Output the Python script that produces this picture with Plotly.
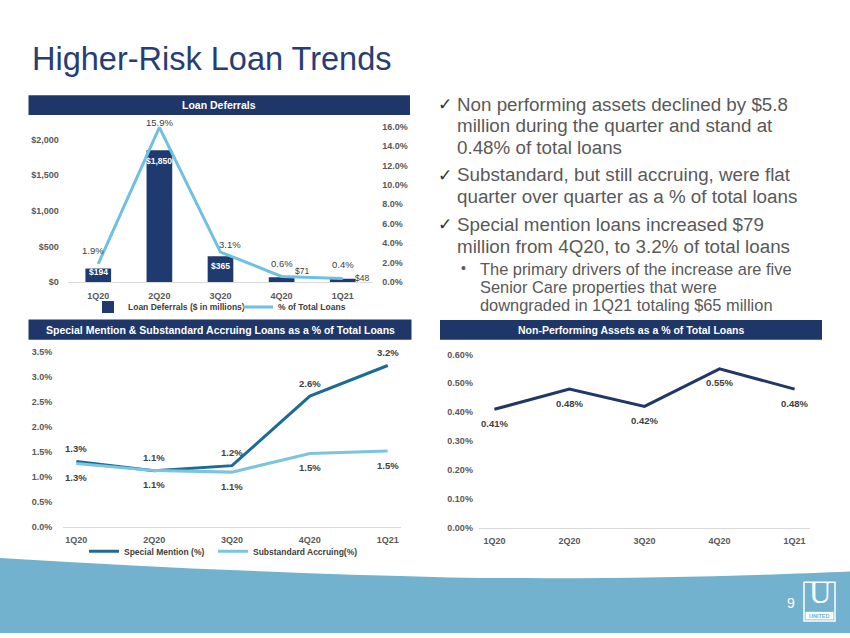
import plotly.graph_objects as go

W, H = 850, 638


def px(x):
    return x / W


def py(y):
    return 1 - y / H


# ---------------- data ----------------
quarters = ["1Q20", "2Q20", "3Q20", "4Q20", "1Q21"]
deferral_amounts = [194, 1850, 365, 71, 48]          # $ in millions
deferral_pct = [1.9, 15.9, 3.1, 0.6, 0.4]            # % of total loans
special_mention = [1.30, 1.12, 1.22, 2.61, 3.22]     # %
substandard_accruing = [1.26, 1.12, 1.09, 1.46, 1.51]  # %
npa_pct = [0.41, 0.48, 0.42, 0.55, 0.48]             # %

deferral_ticks = [0, 500, 1000, 1500, 2000]
deferral_pct_ticks = [0, 2, 4, 6, 8, 10, 12, 14, 16]
sm_ticks = [0, 0.5, 1.0, 1.5, 2.0, 2.5, 3.0, 3.5]
npa_ticks = [0, 0.1, 0.2, 0.3, 0.4, 0.5, 0.6]

title_text = "Higher-Risk Loan Trends"
header_1 = "Loan Deferrals"
header_2 = "Special Mention & Substandard Accruing Loans as a % of Total Loans"
header_3 = "Non-Performing Assets as a % of Total Loans"
bullet_lines = [
    "Non performing assets declined by $5.8",
    "million during the quarter and stand at",
    "0.48% of total loans",
    "Substandard, but still accruing, were flat",
    "quarter over quarter as a % of total loans",
    "Special mention loans increased $79",
    "million from 4Q20, to 3.2% of total loans",
]
check_line_index = [0, 3, 5]
sub_bullet_lines = [
    "The primary drivers of the increase are five",
    "Senior Care properties that were",
    "downgraded in 1Q21 totaling $65 million",
]

# ---------------- styles ----------------
FONT = "Liberation Sans"
NAVY = "#1F3768"
BAR = "#1F3A6E"
LIGHT = "#6EC1E2"
TEAL = "#1B6C94"
SUB = "#7CC4E2"
NPA = "#213767"
TEXT = "#595959"
LABEL = "#404040"
WAVE = "#72B2CE"

tickfont = dict(family=FONT, size=9, color=TEXT, weight="bold")
legendfont = dict(family=FONT, size=8.5, color=LABEL, weight="bold")

fig = go.Figure()

# Chart 1 : Loan deferrals
fig.add_trace(go.Bar(
    x=quarters, y=deferral_amounts, xaxis="x", yaxis="y",
    marker=dict(color=BAR, line=dict(width=0)), width=0.42,
    name="Loan Deferrals ($ in millions)", legend="legend",
    hoverinfo="skip",
))
fig.add_trace(go.Scatter(
    x=quarters, y=deferral_pct, xaxis="x", yaxis="y2", mode="lines",
    line=dict(color=LIGHT, width=3), name="% of Total Loans", legend="legend3",
    hoverinfo="skip",
))

# Chart 2 : Special mention & substandard
fig.add_trace(go.Scatter(
    x=quarters, y=special_mention, xaxis="x2", yaxis="y3", mode="lines",
    line=dict(color=TEAL, width=3), name="Special Mention (%)", legend="legend2",
    hoverinfo="skip",
))
fig.add_trace(go.Scatter(
    x=quarters, y=substandard_accruing, xaxis="x2", yaxis="y3", mode="lines",
    line=dict(color=SUB, width=3), name="Substandard Accruing(%)", legend="legend4",
    hoverinfo="skip",
))

# Chart 3 : NPA
fig.add_trace(go.Scatter(
    x=quarters, y=npa_pct, xaxis="x3", yaxis="y4", mode="lines",
    line=dict(color=NPA, width=3), showlegend=False, hoverinfo="skip",
))

annotations = []

# bar labels
bar_label_offsets = [(0, -4), (0, -11), (0, -10), (20, 6), (19, 1)]
bar_label_colors = ["white", "white", "white", LABEL, LABEL]
for q, v, (dx, dy), c in zip(quarters, deferral_amounts, bar_label_offsets, bar_label_colors):
    annotations.append(dict(
        x=q, y=v, xref="x", yref="y", text="${:,}".format(v), showarrow=False,
        xshift=dx, yshift=dy, xanchor="center", yanchor="middle",
        font=dict(family=FONT, size=8.5, color=c, weight="bold" if c == "white" else "normal"),
    ))

# pct labels on chart 1
pct_label_offsets = [(-5, 13), (0, 5), (9, 8), (0, 13), (0, 14)]
for q, v, (dx, dy) in zip(quarters, deferral_pct, pct_label_offsets):
    annotations.append(dict(
        x=q, y=v, xref="x", yref="y2", text="{:.1f}%".format(v), showarrow=False,
        xshift=dx, yshift=dy, xanchor="center", yanchor="middle",
        font=dict(family=FONT, size=9.5, color=LABEL),
    ))

# chart 2 labels
for q, v in zip(quarters, special_mention):
    annotations.append(dict(
        x=q, y=v, xref="x2", yref="y3", text="{:.1f}%".format(v), showarrow=False,
        yshift=13, xanchor="center", yanchor="middle",
        font=dict(family=FONT, size=9.5, color=LABEL, weight="bold"),
    ))
for q, v in zip(quarters, substandard_accruing):
    annotations.append(dict(
        x=q, y=v, xref="x2", yref="y3", text="{:.1f}%".format(v), showarrow=False,
        yshift=-14, xanchor="center", yanchor="middle",
        font=dict(family=FONT, size=9.5, color=LABEL, weight="bold"),
    ))

# chart 3 labels
for q, v in zip(quarters, npa_pct):
    annotations.append(dict(
        x=q, y=v, xref="x3", yref="y4", text="{:.2f}%".format(v), showarrow=False,
        yshift=-14, xanchor="center", yanchor="middle",
        font=dict(family=FONT, size=9.5, color=LABEL, weight="bold"),
    ))

# slide title
annotations.append(dict(
    x=px(30), y=py(55), xref="paper", yref="paper", text=title_text, showarrow=False,
    xanchor="left", yanchor="middle",
    font=dict(family=FONT, size=32.5, color="#263E73"),
))

# headers
shapes = []
headers = [
    (header_1, 28.5, 410, 91.7, 111.7),
    (header_2, 28.5, 411.5, 319.5, 340),
    (header_3, 440, 822, 320, 340),
]
for txt, x0, x1, y0, y1 in headers:
    shapes.append(dict(type="rect", xref="paper", yref="paper",
                       x0=px(x0), x1=px(x1), y0=py(y1), y1=py(y0),
                       fillcolor=NAVY, line=dict(width=0), layer="below"))
    annotations.append(dict(
        x=px((x0 + x1) / 2), y=py((y0 + y1) / 2), xref="paper", yref="paper",
        text=txt, showarrow=False, xanchor="center", yanchor="middle",
        font=dict(family=FONT, size=10.5, color="white", weight="bold"),
    ))

# bullet text block
line_y0 = 100.7
line_gaps = [0, 22.2, 44.4, 72, 94.3, 122, 144.3]
for i, (txt, dy) in enumerate(zip(bullet_lines, line_gaps)):
    annotations.append(dict(
        x=px(455), y=py(line_y0 + dy), xref="paper", yref="paper", text=txt,
        showarrow=False, xanchor="left", yanchor="middle",
        font=dict(family=FONT, size=18.8, color=TEXT),
    ))
    if i in check_line_index:
        annotations.append(dict(
            x=px(445), y=py(line_y0 + dy), xref="paper", yref="paper", text="✓",
            showarrow=False, xanchor="center", yanchor="middle",
            font=dict(family="DejaVu Sans", size=17, color="#333333"),
        ))
sub_y = [268.3, 286.6, 304.9]
for txt, yy in zip(sub_bullet_lines, sub_y):
    annotations.append(dict(
        x=px(478), y=py(yy), xref="paper", yref="paper", text=txt,
        showarrow=False, xanchor="left", yanchor="middle",
        font=dict(family=FONT, size=16.4, color=TEXT),
    ))
annotations.append(dict(
    x=px(463), y=py(267.5), xref="paper", yref="paper", text="•",
    showarrow=False, xanchor="center", yanchor="middle",
    font=dict(family=FONT, size=14, color=TEXT),
))

# bottom wave
def P(x, y):
    return "{:.5f} {:.5f}".format(px(x), py(y))


wave_main = ("M " + P(0, 561.7) + " C " + P(150, 571) + ", " + P(300, 578) + ", " + P(450, 581.5)
             + " C " + P(600, 584) + ", " + P(750, 580) + ", " + P(850, 575.5)
             + " L " + P(850, 638) + " L " + P(0, 638) + " Z")
shapes.append(dict(type="path", xref="paper", yref="paper", path=wave_main,
                   fillcolor=WAVE, line=dict(width=0), layer="below"))

# logo
shapes.append(dict(type="rect", xref="paper", yref="paper",
                   x0=px(804), x1=px(835), y0=py(625.7), y1=py(586.5),
                   fillcolor="rgba(0,0,0,0)", line=dict(color="white", width=1.5)))
shapes.append(dict(type="rect", xref="paper", yref="paper",
                   x0=px(805.5), x1=px(833.5), y0=py(624.3), y1=py(616.5),
                   fillcolor="white", line=dict(width=0)))
annotations.append(dict(
    x=px(819.5), y=py(617), xref="paper", yref="paper", text="U", showarrow=False,
    xanchor="center", yanchor="bottom",
    font=dict(family="Liberation Serif", size=31, color="white"),
))
annotations.append(dict(
    x=px(819.5), y=py(620.4), xref="paper", yref="paper", text="UNITED", showarrow=False,
    xanchor="center", yanchor="middle",
    font=dict(family=FONT, size=5.5, color=WAVE, weight="bold"),
))
annotations.append(dict(
    x=px(791), y=py(608), xref="paper", yref="paper", text="9", showarrow=False,
    xanchor="center", yanchor="middle",
    font=dict(family=FONT, size=14, color="white"),
))

xaxis_common = dict(
    type="category", showgrid=False, zeroline=False, showline=True,
    linecolor="#D9D9D9", linewidth=1, ticks="", tickfont=tickfont,
    ticklabelstandoff=5, fixedrange=True,
)
yaxis_common = dict(
    showgrid=False, zeroline=False, showline=False, ticks="", tickfont=tickfont,
    fixedrange=True,
)


def legend_at(x, y):
    return dict(orientation="h", x=px(x), xanchor="left", y=py(y), yanchor="middle",
                font=legendfont, bgcolor="rgba(0,0,0,0)", itemwidth=30,
                tracegroupgap=0)


fig.update_layout(
    width=W, height=H,
    margin=dict(l=0, r=0, t=0, b=0),
    paper_bgcolor="white", plot_bgcolor="rgba(0,0,0,0)",
    font=dict(family=FONT, color=TEXT),
    xaxis=dict(xaxis_common, domain=[px(67.7), px(373.3)], anchor="y"),
    yaxis=dict(yaxis_common, domain=[py(281.7), py(123.3)], anchor="x",
               range=[0, 2185], tickvals=deferral_ticks,
               ticktext=["${:,}".format(t) for t in deferral_ticks], ticklabelstandoff=8),
    yaxis2=dict(yaxis_common, domain=[py(281.7), py(123.3)], anchor="x", overlaying="y",
                side="right", range=[0, 16], tickvals=deferral_pct_ticks,
                ticktext=["{:.1f}%".format(t) for t in deferral_pct_ticks], ticklabelstandoff=8),
    xaxis2=dict(xaxis_common, domain=[px(63.3), px(400.7)], anchor="y3"),
    yaxis3=dict(yaxis_common, domain=[py(530), py(352)], anchor="x2",
                range=[0, 3.5], tickvals=sm_ticks,
                ticktext=["{:.1f}%".format(t) for t in sm_ticks], ticklabelstandoff=10),
    xaxis3=dict(xaxis_common, domain=[px(478.9), px(810.1)], anchor="y4"),
    yaxis4=dict(yaxis_common, domain=[py(531), py(355)], anchor="x3",
                range=[0, 0.6], tickvals=npa_ticks,
                ticktext=["{:.2f}%".format(t) for t in npa_ticks], ticklabelstandoff=5),
    legend=legend_at(88, 306.7),
    legend3=legend_at(238, 306.7),
    legend2=legend_at(84, 555),
    legend4=legend_at(213, 555),
    shapes=shapes,
    annotations=annotations,
    hovermode=False,
)

fig.write_html("out.html", config={"displayModeBar": False},
               post_script="document.body.style.margin='0';")
